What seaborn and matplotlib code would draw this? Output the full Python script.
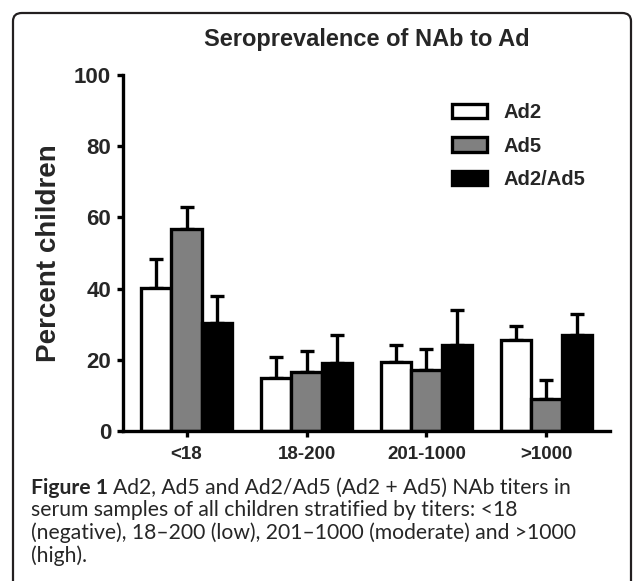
import pandas as pd
import matplotlib
matplotlib.use("Agg")
import matplotlib.pyplot as plt
from matplotlib.patches import Patch, FancyBboxPatch
import seaborn as sns

# data
titers = ["<18", "18-200", "201-1000", ">1000"]
serotypes = ["Ad2", "Ad5", "Ad2/Ad5"]
ad2 = [40.3, 14.8, 19.3, 25.6]
ad5 = [56.7, 16.7, 17.1, 9.0]
ad2_ad5 = [30.3, 19.0, 24.2, 27.1]
ad2_err = [7.9, 6.1, 4.9, 3.9]
ad5_err = [6.2, 5.9, 6.0, 5.2]
ad2_ad5_err = [7.6, 8.0, 9.7, 5.7]
colors = ["white", "#808080", "black"]

df = pd.DataFrame({
    "titer": titers * 3,
    "serotype": [s for s in serotypes for _ in titers],
    "percent": ad2 + ad5 + ad2_ad5,
})
errs = [ad2_err, ad5_err, ad2_ad5_err]

sns.set_style("white")
plt.rcParams["font.family"] = ["Liberation Sans", "DejaVu Sans"]

W, H = 633, 581
fig = plt.figure(figsize=(W / 100, H / 100), dpi=100)
ax = fig.add_axes([123 / W, 1 - 431 / H, (610 - 123) / W, (431 - 75) / H])

sns.barplot(data=df, x="titer", y="percent", hue="serotype", order=titers,
            hue_order=serotypes, palette=colors, edgecolor="black",
            linewidth=2.4, width=0.76, errorbar=None, legend=False,
            saturation=1, ax=ax)

# upward-only error bars
for cont, e in zip(ax.containers, errs):
    xs = [b.get_x() + b.get_width() / 2 for b in cont]
    ys = [b.get_height() for b in cont]
    ax.errorbar(xs, ys, yerr=[[0] * len(e), e], fmt="none", ecolor="black",
                elinewidth=2.4, capsize=4.8, capthick=2.4, zorder=0.5)

ax.set_xlim(-0.53, 3.53)
ax.set_ylim(0, 100)
ax.set_yticks([0, 20, 40, 60, 80, 100])
for s in ["top", "right"]:
    ax.spines[s].set_visible(False)
for s in ["left", "bottom"]:
    ax.spines[s].set_linewidth(2.4)
    ax.spines[s].set_color("black")
ax.tick_params(axis="both", length=4.5, width=2.4, color="black", direction="out",
               left=True, bottom=True)
ax.tick_params(axis="y", labelsize=16, pad=4)
ax.tick_params(axis="x", labelsize=13.5, pad=6)
for lab in ax.get_xticklabels() + ax.get_yticklabels():
    lab.set_fontweight("bold")

ax.set_xlabel("")
ax.set_ylabel("Percent children", fontsize=20, fontweight="bold")
ax.yaxis.set_label_coords(-0.125, 0.5)
ax.set_title("Seroprevalence of NAb to Ad", fontsize=17, fontweight="bold", pad=21)

handles = [Patch(facecolor=c, edgecolor="black", linewidth=2.4) for c in colors]
ax.legend(handles, serotypes, loc="upper left", frameon=False,
          bbox_to_anchor=(452 / W, 1 - 103 / H), bbox_transform=fig.transFigure,
          prop={"weight": "bold", "size": 14.5}, borderpad=0, borderaxespad=0,
          handlelength=1.75, handleheight=0.75, labelspacing=0.72,
          handletextpad=0.8)

# rounded frame around figure
x0, x1, y0 = 13 / W, 631 / W, 1 - 13 / H
frame = FancyBboxPatch((x0, -0.1), x1 - x0, y0 + 0.1,
                       boxstyle="round,pad=0,rounding_size=0.014",
                       transform=fig.transFigure, facecolor="none",
                       edgecolor="#231f20", linewidth=1.6, clip_on=False)
fig.patches.append(frame)

# caption
cap_font = ["Lato", "DejaVu Sans"]
cap_size = 15.2
t = fig.text(31 / W, 1 - 494 / H, "Figure 1", fontsize=cap_size, fontweight="bold",
             family=cap_font, va="baseline")
fig.canvas.draw()
bb = t.get_window_extent()
fig.text(bb.x1 / W + 5 / W, 1 - 494 / H,
         "Ad2, Ad5 and Ad2/Ad5 (Ad2 + Ad5) NAb titers in",
         fontsize=cap_size, family=cap_font, va="baseline")
lines = ["serum samples of all children stratified by titers: <18",
         "(negative), 18\u2013200 (low), 201\u20131000 (moderate) and >1000",
         "(high)."]
for i, line in enumerate(lines):
    fig.text(31 / W, 1 - (516.5 + 22.5 * i) / H, line, fontsize=cap_size,
             family=cap_font, va="baseline")

fig.savefig("out.png", dpi=100)
